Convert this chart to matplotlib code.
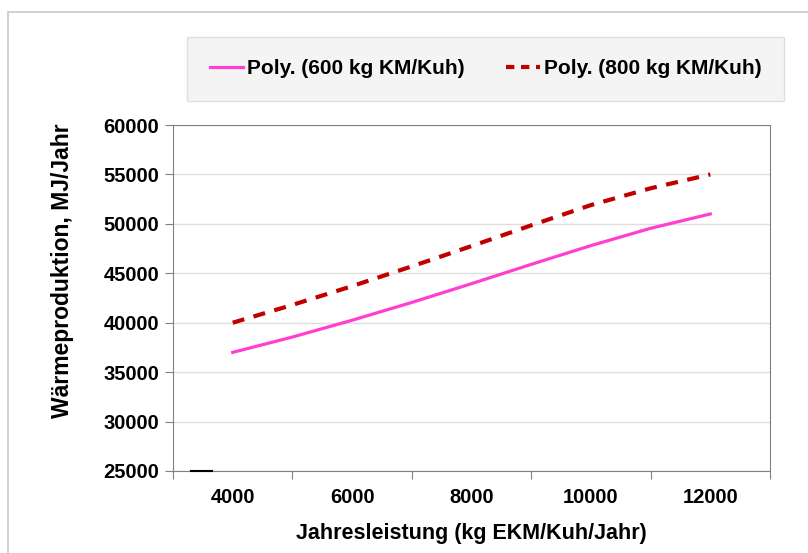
import matplotlib.pyplot as plt
from matplotlib.lines import Line2D
from matplotlib.patches import Rectangle
import numpy as np

plt.rcParams['font.family'] = ['Liberation Sans', 'DejaVu Sans']
plt.rcParams['font.weight'] = 'bold'

# data
leistung = [4000, 5000, 6000, 7000, 8000, 9000, 10000, 11000, 12000]
waerme_600 = [37000, 38550, 40250, 42050, 43950, 45900, 47800, 49550, 51000]
waerme_800 = [40000, 41800, 43700, 45700, 47750, 49850, 51900, 53600, 55000]
rest_x = [3300, 3650]
rest_y = [25000, 25000]

xtick_labels = [4000, 6000, 8000, 10000, 12000]

fig = plt.figure(figsize=(8.08, 5.53), dpi=100)
ax = fig.add_axes([173/808, 1 - 471/553, (770-173)/808, (471-125)/553])

# outer chart border
fig.patches.append(Rectangle((8/808, -0.1), 1.2, 1 - 12/553 + 0.1, transform=fig.transFigure,
                             fill=False, ec='#c8c8c8', lw=1.2))

ax.plot(leistung, waerme_600, color='#ff3fd0', lw=2.3, solid_joinstyle='round')
ax.plot(leistung, waerme_800, color='#c00000', lw=3, ls=(0, (2.9, 2.3)))
ax.plot(rest_x, rest_y, color='k', lw=1.5, clip_on=False, zorder=5)

ax.set_xlim(3000, 13000)
ax.set_ylim(25000, 60000)
ax.set_yticks(np.arange(25000, 60001, 5000))
ax.yaxis.grid(color='#dedede', lw=1)
ax.set_axisbelow(True)

# tick marks between labels, labels without marks
ax.set_xticks(np.arange(3000, 13001, 2000))
ax.set_xticklabels([])
ax.set_xticks(xtick_labels, minor=True)
ax.set_xticklabels([str(v) for v in xtick_labels], minor=True)
ax.tick_params(axis='x', which='minor', length=0, pad=12, labelsize=14.5)
ax.tick_params(axis='x', which='major', length=6, color='#808080')
ax.tick_params(axis='y', length=6, color='#808080', labelsize=14.5, pad=4)

for s in ax.spines.values():
    s.set_color('#808080')

ax.set_xlabel('Jahresleistung (kg EKM/Kuh/Jahr)', fontsize=15.5, fontweight='bold', labelpad=12)
ax.set_ylabel('Wärmeproduktion, MJ/Jahr', fontsize=16.5, fontweight='bold')
ax.yaxis.set_label_coords(-0.165, 0.58)

legend_elements = [Line2D([0], [0], color='#ff3fd0', lw=2.3, label='Poly. (600 kg KM/Kuh)'),
                   Line2D([0], [0], color='#c00000', lw=3, ls=(0, (2.0, 1.6)),
                          label='Poly. (800 kg KM/Kuh)')]
leg = fig.legend(handles=legend_elements, ncol=2, loc='center',
                 bbox_to_anchor=((192+779)/2/808, 1 - (36+102)/2/553),
                 frameon=True, fancybox=False, prop={'weight': 'bold', 'size': 15},
                 handlelength=1.6, handletextpad=0.2, columnspacing=2.0,
                 borderpad=1.1)
leg.get_frame().set_facecolor('#f2f2f2')
leg.get_frame().set_edgecolor('#d9d9d9')

plt.savefig('out.png', dpi=100)
